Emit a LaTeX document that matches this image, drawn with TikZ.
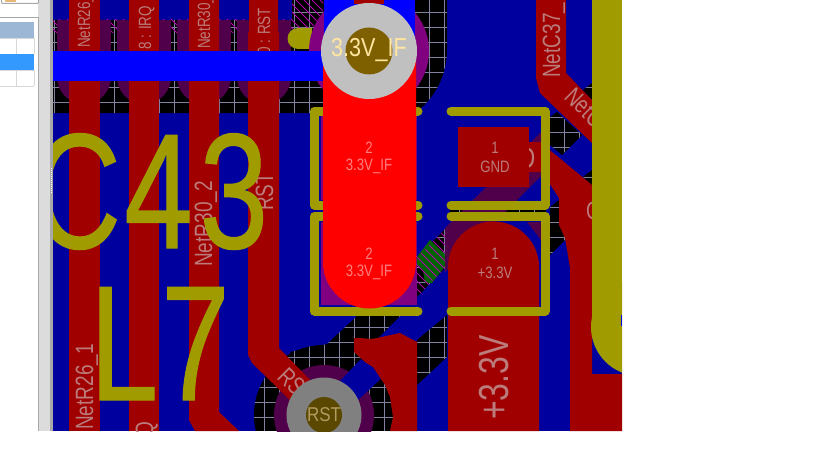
\documentclass[tikz,border=0pt]{standalone}
\usepackage{fontspec}
\setmainfont{Liberation Sans}
\newfontfamily\bigf[FakeBold=0.8]{Liberation Sans}
\definecolor{dblue}{HTML}{00009F}
\definecolor{bblue}{HTML}{0000FF}
\definecolor{dred}{HTML}{A00000}
\definecolor{bred}{HTML}{FF0000}
\definecolor{dpurp}{HTML}{50004B}
\definecolor{bpurp}{HTML}{800080}
\definecolor{olive}{HTML}{A09C00}
\definecolor{gridc}{HTML}{8080A0}
\definecolor{hatchc}{HTML}{B000B0}
\definecolor{silk}{HTML}{BC7C7C}
\definecolor{silkb}{HTML}{FF8080}
\definecolor{dgreen}{HTML}{006400}
\definecolor{holeA}{HTML}{7F6000}
\definecolor{holeB}{HTML}{5A4800}
\definecolor{viaA}{HTML}{C0C0C0}
\definecolor{viaB}{HTML}{808080}
\definecolor{txtA}{HTML}{FFE6A0}
\definecolor{txtB}{HTML}{B09A60}
\definecolor{hdr}{HTML}{9CB7D5}
\definecolor{sel}{HTML}{3399FF}
\definecolor{cellc}{HTML}{D8D8D8}
\definecolor{sash}{HTML}{DCDCDC}
\definecolor{sashd}{HTML}{A8A8A8}
\definecolor{icon}{HTML}{E8B878}
\tikzset{x=1pt,y=-1pt,
  boxline/.style={draw=olive,line width=9pt,line cap=round,line join=round},
  gridline/.style={draw=gridc,line width=0.8pt},
  hatchline/.style={draw=hatchc,line width=0.8pt},
  lbl/.style={inner sep=0pt,text=silk},
  up/.style={lbl,rotate=90,anchor=base west},
  diag/.style={lbl,rotate=-45,anchor=base west},
  big/.style={inner sep=0pt,text=olive,anchor=base west}}
\newcommand{\blk}[1]{\begin{scope}\clip #1;\fill[black] (53,0) rectangle (622,431);
  \foreach \gx in {54,69,...,624}{\draw[gridline] (\gx,0)--(\gx,431);}
  \foreach \gy in {12,27,...,432}{\draw[gridline] (53,\gy)--(622,\gy);}\end{scope}}
\newcommand{\hatchfill}[1]{\begin{scope}\clip #1;
  \foreach \hk in {-400,-392,...,620}{\draw[hatchline] (\hk,0)--(\hk+431,431);}\end{scope}}
\newcommand{\nar}[3][.76]{\scalebox{#1}[1]{\fontsize{#2}{#2}\selectfont #3}}
\newcommand{\bigc}[1]{\scalebox{.75}[1]{\bigf\fontsize{164}{164}\selectfont #1}}
\newcommand{\us}{\char"5F }
\begin{document}
\begin{tikzpicture}
\useasboundingbox (0,0) rectangle (819,460);
\fill[white] (0,0) rectangle (819,460);
\begin{scope}
\clip (53,0) rectangle (622,431);
\fill[dblue] (53,0) rectangle (622,431);
% black copper-free regions
\blk{(53,20)--(292,20)--(292,0)--(447,0)--(447,50) arc[start angle=0,end angle=54,radius=78]--(53,113)--cycle}
\hatchfill{(292,0) rectangle (323,20)}
\hatchfill{(53,20) rectangle (320,33)}
\blk{(550,117)--(557,112)--(582,135)--(562,155)--(550,145)--cycle}
\blk{(583,90)--(592,83)--(592,100)--cycle}
\blk{(583,177)--(592,170)--(592,185)--cycle}
\blk{(550,207)--(559,200)--(559,225)--(566,239)--(550,255)--cycle}
\blk{(450,209) rectangle (546,212)}
\blk{(417,257)--(446,228)--(446,267)--(417,297)--cycle}
\fill[dgreen] (417,257)--(430,240)--(446,255)--(446,265)--(432,283)--(425,283)--(423,270)--(417,265)--cycle;
\fill[dgreen] (473,199) rectangle (517,202);
\hatchfill{(417,257)--(446,228)--(446,267)--(417,297)--cycle}
\blk{(417,340)--(447,315)--(447,357)--(417,385)--cycle}
\blk{(324,415) circle[radius=70]}
\blk{(290,352)--(327,344)--(357,316)--(400,316)--(378,338)--(338,378)--(310,380)--cycle}
% dark pads
\fill[dpurp] (324,415) circle[radius=50];
\fill[dblue] (338,383)--(361,359)--(385,375)--(358,400)--(335,420)--(320,400)--cycle;
\foreach \px in {84,144,204,264}{
  \fill[dpurp] (\px-27,20) rectangle (\px+27,77);
  \fill[dpurp] (\px,77) circle[radius=27];}
\fill[dpurp] (541,132)--(541,176)--(445,272)--(445,228)--cycle;
\fill[dpurp] (527,222)--(541,222)--(541,240)--cycle;
\fill[bpurp] (321,115) rectangle (417,200);
\fill[bpurp] (321,222) rectangle (417,305);
% traces
\fill[dred] (69,0) rectangle (100,431);
\fill[dred] (129,0) rectangle (159,431);
\fill[dred] (189,0)--(219,0)--(219,412)--(239,431)--(195,431)--(189,420)--cycle;
\fill[dred] (249,0)--(278,0)--(278,32)--(279,32)--(279,348)--(312,382)--(292,402)--(252,363)--(248,355)--(248,32)--(249,32)--cycle;
\fill[dred] (536,0)--(566,0)--(566,73)--(592,100)--(592,143)--(540,93)--(536,78)--cycle;
\fill[dred] (354,338)--(360,338)--(372,339)--(400,333)--(417,342)--(417,431)--(390,431)--(393,417)--(390,397)--(385,385)--(373,367)--(365,362)--(354,352)--cycle;
\fill[dred] (529,142)--(540,142)--(592,185)--(592,374)--(622,374)--(622,431)--(570,431)--(570,268)--(565,238)--(559,225)--(559,198)--(542,172)--(529,172)--cycle;
\node[lbl,anchor=base west] (gfrag) at (586,219) {\nar{25}{G}};
\fill[dred] (448,431)--(448,267) arc[start angle=180,end angle=360,radius=45.5]--(539,431)--cycle;
\node[lbl] (dfrag) at (527,158) {\nar{30}{D}};
\fill[dred] (458,127) rectangle (529,187);
% trace labels
\node[up] (t1) at (90,48) {\nar{17.7}{NetR26\us}};
\node[up] (t2) at (151,50) {\nar{17.7}{8 : IRQ}};
\node[up] (t3) at (210,49) {\nar{17.7}{NetR30\us}};
\node[up] (t4) at (270,55) {\nar{17.7}{0 : RST}};
\node[up] (t5) at (212,267) {\nar{25}{NetR30\us 2}};
\node[up] (t6) at (93,430) {\nar{25}{NetR26\us 1}};
\node[up,anchor=base east] (t7) at (153,422) {\nar{25}{Q}};
\node[up] (t8) at (273,211) {\nar{25}{RST}};
\node[up] (t9) at (560,78) {\nar{25}{NetC37\us}};
\node[diag] (t10) at (563,98) {\nar{25}{NetC}};
\node[diag] (t11) at (276,378) {\nar{25}{RS}};
\node[up] (t12) at (508,420) {\nar{42}{+3.3V}};
% olive blob, purple ring, bright blue
\fill[olive] (298,28)--(312,28)--(312,49)--(298,49) arc[start angle=90,end angle=270,radius=10.5]--cycle;
\fill[bpurp] (369,51) circle[radius=60];
\fill[bblue] (53,51) rectangle (324,81);
\fill[bblue] (324,0) rectangle (415,60);
\fill[dred] (354,0) rectangle (384,4);
% silkscreen boxes
\draw[boxline] (323,111)--(314,111)--(314,205)--(418,205);
\draw[boxline] (323,216)--(314,216)--(314,311)--(418,311);
\draw[boxline] (414,111)--(418,111);
\draw[boxline] (414,216)--(418,216);
\draw[boxline] (451,111)--(545,111)--(545,205)--(451,205);
\draw[boxline] (451,216)--(545,216)--(545,311)--(451,311);
% bright red pad and top via
\fill[bred] (323,51)--(416,51)--(416,262) arc[start angle=0,end angle=180,radius=46.5]--cycle;
\fill[viaA] (369,51) circle[radius=48];
\fill[holeA] (369,51) circle[radius=23.5];
\node[inner sep=0pt,text=txtA] (v1) at (369,50) {\nar[.83]{26}{3.3V\us IF}};
% second via
\fill[viaB] (324,415) circle[radius=37.5];
\fill[holeB] (324,415) circle[radius=18];
\node[inner sep=0pt,text=txtB] (v2) at (324,415) {\nar[.85]{20}{RST}};
% pad labels
\node[lbl,text=silkb] (p1) at (369,148) {\nar[.8]{16.5}{2}};
\node[lbl,text=silkb] (p2) at (369,166) {\nar[.8]{16.5}{3.3V\us IF}};
\node[lbl,text=silkb] (p3) at (369,254) {\nar[.8]{16.5}{2}};
\node[lbl,text=silkb] (p4) at (369,272) {\nar[.8]{16.5}{3.3V\us IF}};
\node[lbl] (p5) at (495,148) {\nar[.8]{16.5}{1}};
\node[lbl] (p6) at (495,167) {\nar[.8]{16.5}{GND}};
\node[lbl] (p7) at (495,254) {\nar[.8]{16.5}{1}};
\node[lbl] (p8) at (495,273) {\nar[.8]{16.5}{+3.3V}};
% big olive designators
\node[big] (c) at (32,248) {\bigc{C}};
\node[big] (f) at (124,248) {\bigc{4}};
\node[big] (th) at (199.4,248) {\bigc{3}};
\node[big] (el) at (89.5,400) {\bigc{L}};
\node[big] (se) at (161,400) {\bigc{7}};
% big olive bar on the right
\fill[olive] (592,0) rectangle (622,327);
\fill[olive] (640,327) circle[radius=49];
\fill[bblue] (621,315) rectangle (622,326);
\end{scope}
% left panel
\fill[sash] (38,0) rectangle (50,431);
\fill[sashd] (50,0) rectangle (53,431);
\draw[sashd,line width=1pt] (38.5,17)--(38.5,431);
\draw[sashd,line width=1pt] (0,17.5)--(38.5,17.5);
\draw[sashd,line width=1pt,rounded corners=1pt] (1.5,-2)--(1.5,3.5)--(38.5,3.5)--(38.5,-2);
\fill[icon] (5,0) rectangle (16,2.5);
\fill[hdr] (0,22) rectangle (34,38);
\fill[sel] (0,54) rectangle (34,70);
\draw[cellc,line width=1pt] (0,38.5)--(34,38.5) (0,70.5)--(34,70.5) (0,86)--(34,86);
\draw[cellc,line width=1pt] (16.5,38)--(16.5,54) (16.5,70)--(16.5,86) (34,38)--(34,54) (34,70)--(34,86);
\foreach \dy in {168,170,...,192}{\fill[white] (50.6,\dy) rectangle (51.6,\dy+1);}
\end{tikzpicture}
\end{document}
